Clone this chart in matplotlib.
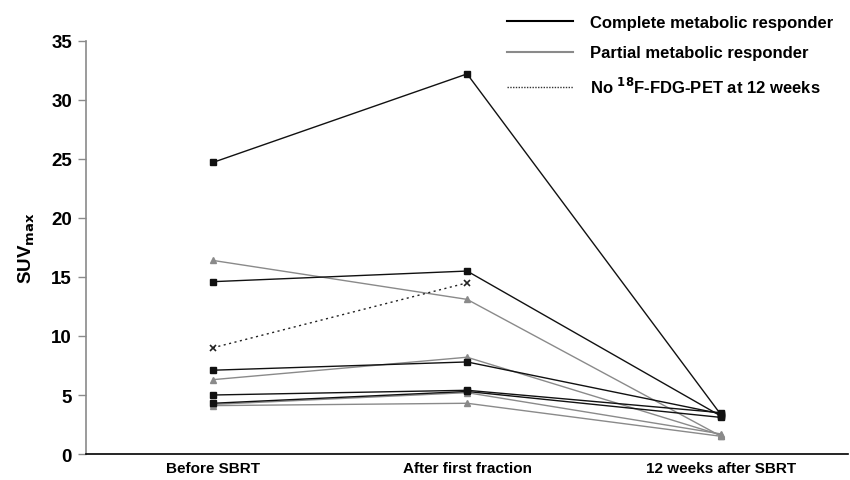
import numpy as np
import matplotlib.pyplot as plt
from matplotlib.lines import Line2D

plt.rcParams['font.family'] = ['Liberation Sans', 'DejaVu Sans']
plt.rcParams['font.weight'] = 'bold'

timepoints = ["Before SBRT", "After first fraction", "12 weeks after SBRT"]

# complete metabolic responders (black, squares)
complete = [
    [24.7, 32.2, 3.3],
    [14.6, 15.5, 3.2],
    [7.1, 7.8, 3.4],
    [5.0, 5.4, 3.5],
    [4.3, 5.3, 3.1],
]
# partial metabolic responders (grey, triangles)
partial = [
    [16.4, 13.1, 1.5],
    [6.3, 8.2, 1.6],
    [4.1, 4.3, 1.5],
    [4.2, 5.2, 1.7],
]
# no PET at 12 weeks (dotted)
no_pet = [9.0, 14.5]

grey = '#8a8a8a'

fig = plt.figure(figsize=(8.5, 4.81), dpi=100)
ax = fig.add_axes([0.101, 0.054, 0.897, 0.859])

x = np.arange(len(timepoints))
for row in partial:
    ax.plot(x, row, color=grey, lw=1.0, marker='^', ms=4.5, mfc=grey, mec=grey)
for row in complete:
    ax.plot(x, row, color='#111111', lw=1.0, marker='s', ms=4, mfc='#111111', mec='#111111')
ax.plot(x[:len(no_pet)], no_pet, color='#222222', lw=1.0, ls=(0, (1.5, 2.5)),
        marker='x', ms=4, mew=1.2)

ax.set_xlim(-0.5, 2.5)
ax.set_ylim(0, 35)
ax.set_yticks(np.arange(0, 36, 5))
ax.set_xticks(x)
ax.set_xticklabels(timepoints, fontsize=11, fontweight='bold')
ax.tick_params(axis='x', length=0, pad=5)
ax.tick_params(axis='y', length=6, width=1, color=grey, labelsize=13.5, pad=4)
for lab in ax.get_yticklabels():
    lab.set_fontweight('bold')

ax.spines['top'].set_visible(False)
ax.spines['right'].set_visible(False)
ax.spines['left'].set_color(grey)
ax.spines['left'].set_linewidth(1.2)
ax.spines['bottom'].set_color('black')
ax.spines['bottom'].set_linewidth(1.2)

ax.set_ylabel(r'SUV$_{\mathbf{max}}$', fontsize=13.5, fontweight='bold', labelpad=10)

handles = [
    Line2D([], [], color='black', lw=1.5),
    Line2D([], [], color=grey, lw=1.5),
    Line2D([], [], color='#333333', lw=1.0, ls=(0, (1, 1))),
]
labels = ["Complete metabolic responder", "Partial metabolic responder",
          r"No $^{\mathbf{18}}$F-FDG-PET at 12 weeks"]
leg = ax.legend(handles, labels, loc='upper right', bbox_to_anchor=(1.0, 1.10),
                frameon=False, handlelength=4.0, labelspacing=0.95,
                handletextpad=1.0, prop={'weight': 'bold', 'size': 12})

fig.savefig('out.png', dpi=100)
